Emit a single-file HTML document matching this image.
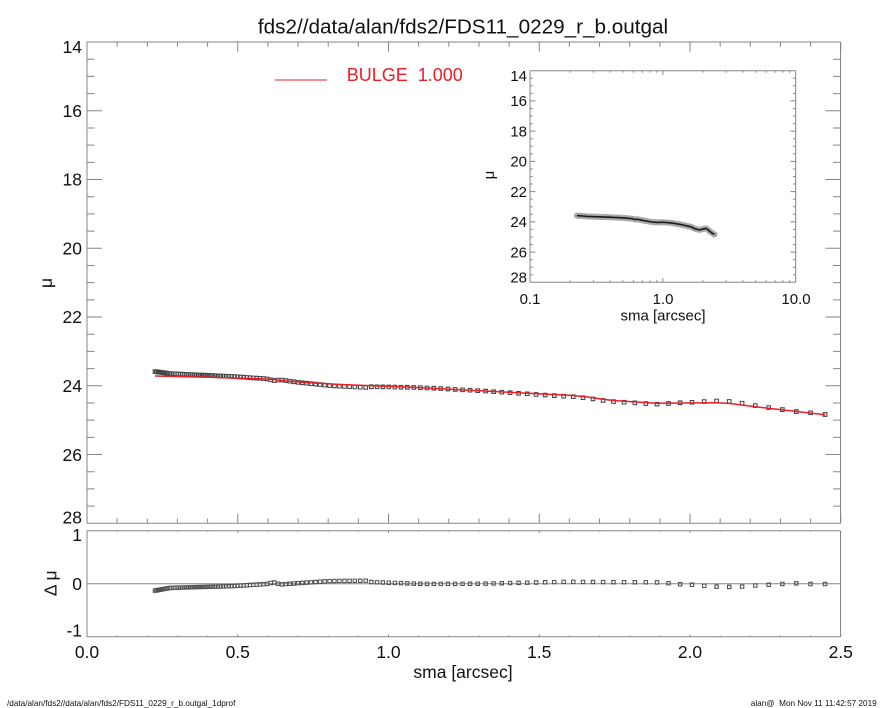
<!DOCTYPE html>
<html><head><meta charset="utf-8">
<style>
html,body{margin:0;padding:0;background:#fff;}
svg{display:block;font-family:"Liberation Sans",sans-serif;}
text{fill:#111;}
</style></head><body>
<svg id="sv" width="885" height="708" viewBox="0 0 885 708" xmlns="http://www.w3.org/2000/svg">
<rect width="885" height="708" fill="#fff"/>
<path id="axes" stroke="#858585" stroke-width="1" fill="none" d=""/>
<g id="data"></g>

<text x="463" y="33.5" font-size="20.7" text-anchor="middle">fds2//data/alan/fds2/FDS11_0229_r_b.outgal</text>

<line x1="275" y1="80" x2="327" y2="80" stroke="#e8202a" stroke-width="1"/>
<text x="346.7" y="81" font-size="18" style="fill:#e8202a;white-space:pre" xml:space="preserve">BULGE  1.000</text>

<g font-size="17.5" text-anchor="end">
<text x="82" y="52.8">14</text>
<text x="82" y="117">16</text>
<text x="82" y="185.7">18</text>
<text x="82" y="254.5">20</text>
<text x="82" y="323.2">22</text>
<text x="82" y="392">24</text>
<text x="82" y="460.8">26</text>
<text x="82" y="523.3">28</text>
<text x="82" y="540.8">1</text>
<text x="82" y="589.9">0</text>
<text x="82" y="636.7">-1</text>
</g>
<g font-size="17.5" text-anchor="middle">
<text x="87" y="658">0.0</text>
<text x="237.75" y="658">0.5</text>
<text x="388.5" y="658">1.0</text>
<text x="539.25" y="658">1.5</text>
<text x="690" y="658">2.0</text>
<text x="840.75" y="658">2.5</text>
<text x="463" y="678">sma [arcsec]</text>
</g>
<text font-size="17.5" text-anchor="middle" transform="translate(52,283) rotate(-90)">μ</text>
<text font-size="17.5" text-anchor="middle" transform="translate(56.5,583.3) rotate(-90)" style="white-space:pre" xml:space="preserve">Δ μ</text>

<g font-size="15" text-anchor="end">
<text x="527" y="81">14</text>
<text x="527" y="106.1">16</text>
<text x="527" y="136.4">18</text>
<text x="527" y="166.6">20</text>
<text x="527" y="196.8">22</text>
<text x="527" y="227.1">24</text>
<text x="527" y="257.3">26</text>
<text x="527" y="282.7">28</text>
</g>
<g font-size="15" text-anchor="middle">
<text x="530" y="304">0.1</text>
<text x="663" y="304">1.0</text>
<text x="796" y="304">10.0</text>
<text x="663" y="320.5">sma [arcsec]</text>
</g>
<text font-size="15" text-anchor="middle" transform="translate(494,175) rotate(-90)">μ</text>

<text x="7" y="706" font-size="8.2">/data/alan/fds2//data/alan/fds2/FDS11_0229_r_b.outgal_1dprof</text>
<text x="876.7" y="706" font-size="8.2" text-anchor="end" style="white-space:pre" xml:space="preserve">alan@  Mon Nov 11 11:42:57 2019</text>
</svg>
<script>
(function(){
const NS="http://www.w3.org/2000/svg";
function el(p,tag,a){const e=document.createElementNS(NS,tag);for(const k in a)e.setAttribute(k,a[k]);p.appendChild(e);return e;}
let d="";
function ln(x1,y1,x2,y2){d+="M"+x1.toFixed(2)+" "+y1.toFixed(2)+"L"+x2.toFixed(2)+" "+y2.toFixed(2);}
const L=87,R=840.5,T=42,B=523.3;
const X=s=>L+s*301.5;
const Y=m=>T+(m-14)*(B-T)/14;
ln(L,T,R,T);ln(R,T,R,B);ln(R,B,L,B);ln(L,B,L,T);
for(let i=0;i<=25;i++){const x=X(i*0.1);const len=(i%5==0)?9.6:4.8;ln(x,B,x,B-len);ln(x,T,x,T+len);}
for(let j=0;j<=28;j++){const y=Y(14+j*0.5);const len=(j%4==0)?15:7.5;ln(L,y,L+len,y);ln(R,y,R-len,y);}
const LT=530.7,LB=636.7,Z=583.7;
const YL=r=>Z-r*53;
ln(L,LT,R,LT);ln(R,LT,R,LB);ln(R,LB,L,LB);ln(L,LB,L,LT);
for(let i=0;i<=25;i++){const x=X(i*0.1);const len=(i%5==0)?2.2:1.1;ln(x,LB,x,LB-len);ln(x,LT,x,LT+len);}
[-1,0,1].forEach(r=>{const y=YL(r);ln(L,y,L+15,y);ln(R,y,R-15,y);});
ln(L,Z,R,Z);
const IL=530,IR=795.7,IT=70.7,IB=282.3;
const XI=s=>IL+Math.log10(s/0.1)*(IR-IL)/2;
const YI=m=>IT+(m-14)*(IB-IT)/14;
ln(IL,IT,IR,IT);ln(IR,IT,IR,IB);ln(IR,IB,IL,IB);ln(IL,IB,IL,IT);
[0.1,1].forEach(dec=>{for(let k=1;k<=9;k++){const x=XI(dec*k);const len=(k==1)?4.2:2.1;ln(x,IB,x,IB-len);ln(x,IT,x,IT+len);}});
{const x=XI(10);ln(x,IB,x,IB-4.2);ln(x,IT,x,IT+4.2);}
for(let j=0;j<=28;j++){const y=YI(14+j*0.5);const len=(j%4==0)?5.3:2.7;ln(IL,y,IL+len,y);ln(IR,y,IR-len,y);}
document.getElementById("axes").setAttribute("d",d);

const M=[[0.2255,376],[0.40,377.3],[0.596,379],[0.70,382],[0.84,384.5],[1.06,387],[1.35,391.5],[1.612,395.5],[1.66,397],[1.711,399.3],[1.745,400.5],[1.887,403.3],[2.086,402.8],[2.133,403.5],[2.216,406.7],[2.448,414.7]];
const RR=[[0.2255,-0.13],[0.275,-0.08],[0.33,-0.07],[0.485,-0.045],[0.596,-0.005],[0.617,0.025],[0.625,0.02],[0.64,-0.015],[0.70,0.01],[0.806,0.05],[0.927,0.057],[0.944,0.03],[1.093,0.0],[1.16,-0.005],[1.313,0.0],[1.58,0.035],[1.89,0.025],[1.927,0.01],[1.967,-0.01],[2.006,-0.02],[2.047,-0.04],[2.086,-0.055],[2.13,-0.06],[2.17,-0.055],[2.216,-0.035],[2.26,-0.02],[2.304,-0.006],[2.35,0.007],[2.394,-0.006],[2.448,-0.006]];
function interp(P,s){if(s<=P[0][0])return P[0][1];for(let i=1;i<P.length;i++){if(s<=P[i][0]){const a=P[i-1],b=P[i];return a[1]+(b[1]-a[1])*(s-a[0])/(b[0]-a[0]);}}return P[P.length-1][1];}
const g=document.getElementById("data");
const N=121,s0=0.2255,s1=2.448;
const pts=[];
for(let i=0;i<N;i++){const s=s0*Math.pow(s1/s0,i/(N-1));const my=interp(M,s);const r=interp(RR,s);pts.push([s,my+r*(B-T)/14,r]);}
let ip="";
pts.forEach((p,i)=>{const mu=14+(p[1]-T)*14/(B-T);ip+=(i?"L":"M")+XI(p[0]).toFixed(2)+" "+YI(mu).toFixed(2);});
el(g,"path",{d:ip,stroke:"#a8a8a8","stroke-width":"6","stroke-linejoin":"round","stroke-linecap":"round",fill:"none"});
el(g,"path",{d:ip,stroke:"#1a1a1a","stroke-width":"1.6","stroke-linejoin":"round",fill:"none"});
let sq="",sq2="";
pts.forEach(p=>{const x=X(p[0]);const y=p[1];sq+="M"+(x-1.8).toFixed(2)+" "+(y-1.8).toFixed(2)+"h3.6v3.6h-3.6z";
 const y2=YL(p[2]);sq2+="M"+(x-1.7).toFixed(2)+" "+(y2-1.7).toFixed(2)+"h3.4v3.4h-3.4z";});
el(g,"path",{d:sq,stroke:"#444","stroke-width":"1.05",fill:"none"});
el(g,"path",{d:sq2,stroke:"#505050","stroke-width":"1.05",fill:"none"});
let mp="";
M.forEach((p,i)=>{mp+=(i?"L":"M")+X(p[0]).toFixed(2)+" "+p[1].toFixed(2);});
el(g,"path",{d:mp,stroke:"#e8202a","stroke-width":"1.5","stroke-linejoin":"round",fill:"none"});
})();
</script>
</body></html>
